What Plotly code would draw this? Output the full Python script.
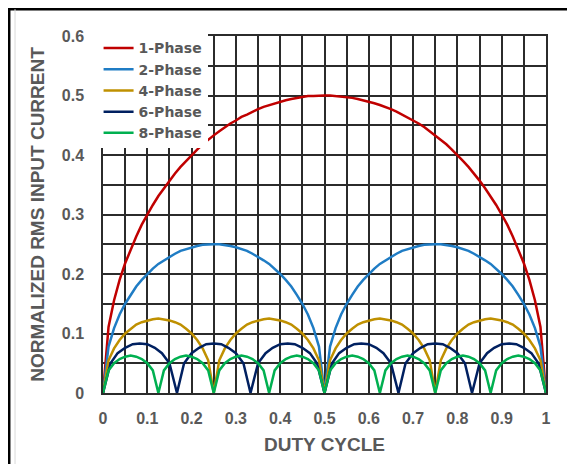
import plotly.graph_objects as go

# duty cycle sample points (shared by 1/2/4/8-phase curves)
duty = [0, 0.0125, 0.025, 0.0375, 0.05, 0.0625, 0.075, 0.0875, 0.1, 0.1125,
        0.125, 0.1375, 0.15, 0.1625, 0.175, 0.1875, 0.2, 0.2125, 0.225, 0.2375,
        0.25, 0.2625, 0.275, 0.2875, 0.3, 0.3125, 0.325, 0.3375, 0.35, 0.3625,
        0.375, 0.3875, 0.4, 0.4125, 0.425, 0.4375, 0.45, 0.4625, 0.475, 0.4875,
        0.5, 0.5125, 0.525, 0.5375, 0.55, 0.5625, 0.575, 0.5875, 0.6, 0.6125,
        0.625, 0.6375, 0.65, 0.6625, 0.675, 0.6875, 0.7, 0.7125, 0.725, 0.7375,
        0.75, 0.7625, 0.775, 0.7875, 0.8, 0.8125, 0.825, 0.8375, 0.85, 0.8625,
        0.875, 0.8875, 0.9, 0.9125, 0.925, 0.9375, 0.95, 0.9625, 0.975, 0.9875, 1]

# 6-phase is read at its own points (its zeros sit at sixths)
duty6 = [0, 0.017, 0.033, 0.05, 0.067, 0.083, 0.1, 0.117, 0.133, 0.15,
         0.167, 0.183, 0.2, 0.217, 0.233, 0.25, 0.267, 0.283, 0.3, 0.317,
         0.333, 0.35, 0.367, 0.383, 0.4, 0.417, 0.433, 0.45, 0.467, 0.483,
         0.5, 0.517, 0.533, 0.55, 0.567, 0.583, 0.6, 0.617, 0.633, 0.65,
         0.667, 0.683, 0.7, 0.717, 0.733, 0.75, 0.767, 0.783, 0.8, 0.817,
         0.833, 0.85, 0.867, 0.883, 0.9, 0.917, 0.933, 0.95, 0.967, 0.983, 1]

phase1 = [0, 0.111, 0.156, 0.190, 0.218, 0.242, 0.263, 0.283, 0.300, 0.316,
          0.331, 0.344, 0.357, 0.369, 0.380, 0.390, 0.400, 0.409, 0.418, 0.426,
          0.433, 0.440, 0.447, 0.453, 0.458, 0.464, 0.468, 0.473, 0.477, 0.481,
          0.484, 0.487, 0.490, 0.492, 0.494, 0.496, 0.498, 0.499, 0.499, 0.500,
          0.500, 0.500, 0.499, 0.499, 0.498, 0.496, 0.494, 0.492, 0.490, 0.487,
          0.484, 0.481, 0.477, 0.473, 0.468, 0.464, 0.458, 0.453, 0.447, 0.440,
          0.433, 0.426, 0.418, 0.409, 0.400, 0.390, 0.380, 0.369, 0.357, 0.344,
          0.331, 0.316, 0.300, 0.283, 0.263, 0.242, 0.218, 0.190, 0.156, 0.111, 0]

phase2 = [0, 0.078, 0.109, 0.132, 0.150, 0.165, 0.179, 0.190, 0.200, 0.209,
          0.217, 0.223, 0.229, 0.234, 0.239, 0.242, 0.245, 0.247, 0.249, 0.250,
          0.250, 0.250, 0.249, 0.247, 0.245, 0.242, 0.239, 0.234, 0.229, 0.223,
          0.217, 0.209, 0.200, 0.190, 0.179, 0.165, 0.150, 0.132, 0.109, 0.078,
          0, 0.078, 0.109, 0.132, 0.150, 0.165, 0.179, 0.190, 0.200, 0.209,
          0.217, 0.223, 0.229, 0.234, 0.239, 0.242, 0.245, 0.247, 0.249, 0.250,
          0.250, 0.250, 0.249, 0.247, 0.245, 0.242, 0.239, 0.234, 0.229, 0.223,
          0.217, 0.209, 0.200, 0.190, 0.179, 0.165, 0.150, 0.132, 0.109, 0.078, 0]

phase4 = [0, 0.055, 0.075, 0.089, 0.100, 0.108, 0.115, 0.119, 0.122, 0.124,
          0.125, 0.124, 0.122, 0.119, 0.115, 0.108, 0.100, 0.089, 0.075, 0.055,
          0, 0.055, 0.075, 0.089, 0.100, 0.108, 0.115, 0.119, 0.122, 0.124,
          0.125, 0.124, 0.122, 0.119, 0.115, 0.108, 0.100, 0.089, 0.075, 0.055,
          0, 0.055, 0.075, 0.089, 0.100, 0.108, 0.115, 0.119, 0.122, 0.124,
          0.125, 0.124, 0.122, 0.119, 0.115, 0.108, 0.100, 0.089, 0.075, 0.055,
          0, 0.055, 0.075, 0.089, 0.100, 0.108, 0.115, 0.119, 0.122, 0.124,
          0.125, 0.124, 0.122, 0.119, 0.115, 0.108, 0.100, 0.089, 0.075, 0.055, 0]

phase6 = [0, 0.050, 0.067, 0.076, 0.082, 0.083, 0.082, 0.076, 0.067, 0.050,
          0, 0.050, 0.067, 0.076, 0.082, 0.083, 0.082, 0.076, 0.067, 0.050,
          0, 0.050, 0.067, 0.076, 0.082, 0.083, 0.082, 0.076, 0.067, 0.050,
          0, 0.050, 0.067, 0.076, 0.082, 0.083, 0.082, 0.076, 0.067, 0.050,
          0, 0.050, 0.067, 0.076, 0.082, 0.083, 0.082, 0.076, 0.067, 0.050,
          0, 0.050, 0.067, 0.076, 0.082, 0.083, 0.082, 0.076, 0.067, 0.050, 0]

phase8 = [0, 0.038, 0.050, 0.057, 0.061, 0.063, 0.061, 0.057, 0.050, 0.038,
          0, 0.038, 0.050, 0.057, 0.061, 0.063, 0.061, 0.057, 0.050, 0.038,
          0, 0.038, 0.050, 0.057, 0.061, 0.063, 0.061, 0.057, 0.050, 0.038,
          0, 0.038, 0.050, 0.057, 0.061, 0.063, 0.061, 0.057, 0.050, 0.038,
          0, 0.038, 0.050, 0.057, 0.061, 0.063, 0.061, 0.057, 0.050, 0.038,
          0, 0.038, 0.050, 0.057, 0.061, 0.063, 0.061, 0.057, 0.050, 0.038,
          0, 0.038, 0.050, 0.057, 0.061, 0.063, 0.061, 0.057, 0.050, 0.038,
          0, 0.038, 0.050, 0.057, 0.061, 0.063, 0.061, 0.057, 0.050, 0.038, 0]

x_ticks = [0, 0.1, 0.2, 0.3, 0.4, 0.5, 0.6, 0.7, 0.8, 0.9, 1]
x_labels = ["0", "0.1", "0.2", "0.3", "0.4", "0.5", "0.6", "0.7", "0.8", "0.9", "1"]
y_ticks = [0, 0.1, 0.2, 0.3, 0.4, 0.5, 0.6]
y_labels = ["0", "0.1", "0.2", "0.3", "0.4", "0.5", "0.6"]

gray = "#595959"
grid = "#2b2b2b"
font_fam = "Liberation Sans, Arial, sans-serif"

fig = go.Figure()
fig.add_trace(go.Scatter(x=duty, y=phase1, mode="lines", name="1-Phase",
                         line=dict(color="#C00000", width=2.5)))
fig.add_trace(go.Scatter(x=duty, y=phase2, mode="lines", name="2-Phase",
                         line=dict(color="#1F7CC4", width=2.5)))
fig.add_trace(go.Scatter(x=duty, y=phase4, mode="lines", name="4-Phase",
                         line=dict(color="#BF9000", width=2.5)))
fig.add_trace(go.Scatter(x=duty6, y=phase6, mode="lines", name="6-Phase",
                         line=dict(color="#002060", width=2.5)))
fig.add_trace(go.Scatter(x=duty, y=phase8, mode="lines", name="8-Phase",
                         line=dict(color="#00B050", width=2.5)))

# outer frame of the picture (page has an 8px body margin)
fig.add_shape(type="rect", xref="paper", yref="paper",
              x0=-0.2117, x1=1.3, y0=-0.4, y1=1.0751,
              line=dict(color="black", width=2.5), layer="below")
fig.add_shape(type="line", xref="paper", yref="paper",
              x0=-0.1986, x1=-0.1986, y0=-0.4, y1=1.0751,
              line=dict(color="#d9d9d9", width=1), layer="below")

axis_common = dict(
    showgrid=True, gridcolor=grid, gridwidth=1.5,
    showline=True, linecolor=grid, linewidth=1.5, mirror=True,
    zeroline=False, ticks="",
    tickfont=dict(family=font_fam, size=16, color=gray, weight="bold"),
    minor=dict(showgrid=True, gridcolor=grid, gridwidth=1.5, dtick=0.05),
)

fig.update_xaxes(range=[0, 1], tickvals=x_ticks, ticktext=x_labels,
                 title=dict(text="DUTY CYCLE", standoff=12,
                            font=dict(family=font_fam, size=19, color=gray, weight="bold")),
                 ticklabelstandoff=10, **axis_common)
fig.update_yaxes(range=[0, 0.6], tickvals=y_ticks, ticktext=y_labels,
                 title=dict(text="NORMALIZED RMS INPUT CURRENT", standoff=12,
                            font=dict(family=font_fam, size=19, color=gray, weight="bold")),
                 ticklabelstandoff=14, **axis_common)

fig.update_layout(
    width=567, height=456,
    margin=dict(l=95, r=29, t=28, b=71),
    paper_bgcolor="white", plot_bgcolor="white",
    showlegend=True,
    legend=dict(x=-0.01, y=1.01, xanchor="left", yanchor="top",
                bgcolor="white", borderwidth=0,
                font=dict(family="DejaVu Sans, sans-serif", size=14, color=gray, weight="bold"),
                tracegroupgap=0, itemwidth=30),
)

fig.write_html("out.html")
